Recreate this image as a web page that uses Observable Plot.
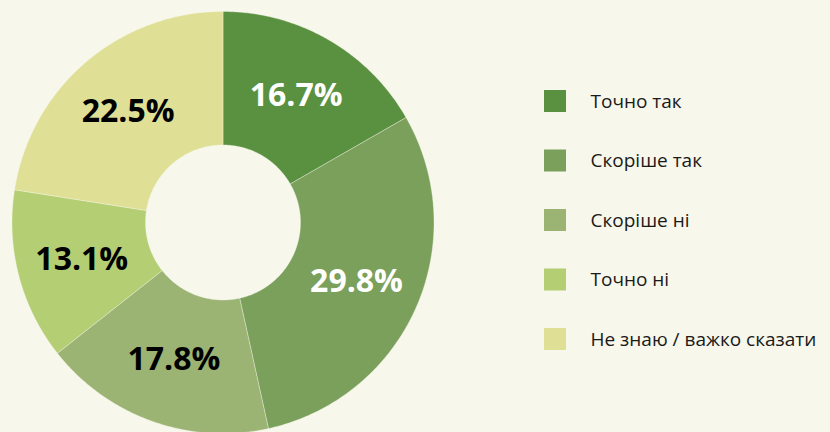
<!DOCTYPE html>
<html>
<head>
<meta charset="utf-8">
<script src="https://cdn.jsdelivr.net/npm/d3@7"></script>
<script src="https://cdn.jsdelivr.net/npm/@observablehq/plot@0.6"></script>
<style>
  html, body { margin: 0; padding: 0; background: #f7f7eb; }
  #chart svg { display: block; background: #f7f7eb; }
</style>
</head>
<body>
<div id="chart"></div>
<script>
// ---- data ----
const categories = ["Точно так", "Скоріше так", "Скоріше ні", "Точно ні", "Не знаю / важко сказати"];
const values = [16.7, 29.8, 17.8, 13.1, 22.5];
const labels = ["16.7%", "29.8%", "17.8%", "13.1%", "22.5%"];
const colors = ["#5a9140", "#7aa05b", "#9bb373", "#b4ce74", "#dfe096"];
const labelColors = ["#ffffff", "#ffffff", "#000000", "#000000", "#000000"];

// ---- layout ----
const W = 830, H = 432;
const cx = 222.5, cy = 222, R = 211, r0 = 77.5, rLabel = 146;

const pie = d3.pie().sort(null).value(d => d.value)(
  categories.map((c, i) => ({cat: c, value: values[i], label: labels[i], lc: labelColors[i]}))
);

// slice outlines (polar -> cartesian), angle 0 at 12 o'clock, clockwise
const pt = (a, rad) => [cx + rad * Math.sin(a), cy - rad * Math.cos(a)];
const slices = [];
pie.forEach(p => {
  const n = Math.max(2, Math.ceil((p.endAngle - p.startAngle) / (Math.PI / 360)));
  const ring = [];
  for (let k = 0; k <= n; k++) ring.push(pt(p.startAngle + (p.endAngle - p.startAngle) * k / n, R));
  for (let k = n; k >= 0; k--) ring.push(pt(p.startAngle + (p.endAngle - p.startAngle) * k / n, r0));
  ring.push(ring[0]);
  ring.forEach(([x, y]) => slices.push({cat: p.data.cat, x, y}));
});

const labelPts = pie.map(p => {
  const a = (p.startAngle + p.endAngle) / 2;
  const [x, y] = pt(a, rLabel);
  return {x, y, label: p.data.label, lc: p.data.lc};
});

const legend = categories.map((c, i) => ({cat: c, i}));
const legX1 = 544, legSize = 22, legTextX = 590, legY0 = 90, legStep = 59.5;

const chart = Plot.plot({
  width: W, height: H,
  margin: 0,
  style: {background: "#f7f7eb", fontFamily: "'Open Sans', sans-serif"},
  x: {domain: [0, W], range: [0, W], axis: null},
  y: {domain: [0, H], range: [0, H], axis: null},
  color: {domain: categories, range: colors},
  marks: [
    Plot.line(slices, {x: "x", y: "y", z: "cat", fill: "cat", stroke: "#f7f7eb", strokeWidth: 0.6, strokeOpacity: 0.6, curve: "linear"}),
    Plot.text(labelPts, {x: "x", y: "y", text: "label", fill: "lc", fontSize: 32, fontWeight: "bold", fontFamily: "'Open Sans', sans-serif", textAnchor: "middle", lineAnchor: "middle"}),
    Plot.rect(legend, {x1: legX1, x2: legX1 + legSize, y1: d => legY0 + d.i * legStep, y2: d => legY0 + d.i * legStep + legSize, fill: "cat"}),
    Plot.text(legend, {x: legTextX, y: d => legY0 + d.i * legStep + legSize / 2, text: "cat", fill: "#1a1a1a", fontSize: 19, fontFamily: "'Open Sans', sans-serif", textAnchor: "start", lineAnchor: "middle"})
  ]
});
document.getElementById("chart").appendChild(chart);
</script>
</body>
</html>
